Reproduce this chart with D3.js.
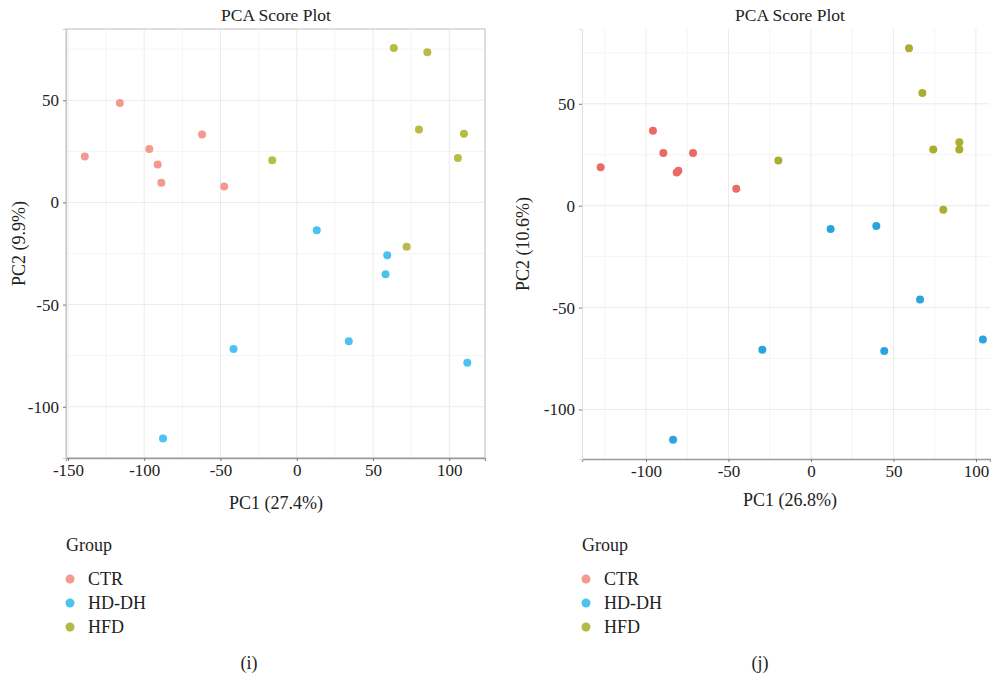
<!DOCTYPE html>
<html>
<head>
<meta charset="utf-8">
<script src="https://cdn.jsdelivr.net/npm/d3@7"></script>
<style>
    body { margin: 0; background: #fff; }
    svg text { font-family: "Liberation Serif", "DejaVu Serif", serif; fill: #222; }
    .grid line { stroke: #ebebeb; }
    .grid .minor { stroke: #f4f4f4; }
</style>
</head>
<body>
<svg id="chart" width="991" height="678"></svg>
<script>
// groups, legend
const groups = ["CTR", "HD-DH", "HFD"];
const legendColors = ["#F39A90", "#4CC3EF", "#B4B845"];

// panel (i): [PC1, PC2]
const ctrI = [[-139, 22.5], [-116, 48.7], [-96.7, 26.2], [-91.2, 18.6], [-88.8, 9.6], [-62.1, 33.3], [-47.6, 7.8]];
const hddhI = [[13.1, -13.6], [59.3, -25.9], [58.2, -35.1], [34.1, -68], [-41.5, -71.8], [111.8, -78.5], [-87.7, -115.6]];
const hfdI = [[-16.1, 20.7], [63.6, 75.6], [85.6, 73.5], [80.1, 35.7], [109.6, 33.6], [105.6, 21.8], [72, -21.7]];

// panel (j)
const ctrJ = [[-127.5, 18.8], [-95.8, 36.8], [-89.5, 25.9], [-81.4, 16.3], [-80.4, 17.2], [-71.5, 25.9], [-45.3, 8.3]];
const hddhJ = [[11.9, -11.4], [39.6, -10], [66.1, -46], [-29.5, -70.7], [44.4, -71.3], [104.2, -65.7], [-83.6, -114.8]];
const hfdJ = [[-19.8, 22.2], [59.4, 77.2], [67.5, 55.3], [74.1, 27.6], [89.9, 31.1], [89.9, 27.6], [80.2, -2]];

const xTicksI = [-150, -100, -50, 0, 50, 100];
const xTicksJ = [-100, -50, 0, 50, 100];
const yTicks = [-100, -50, 0, 50];

let svg = d3.select("#chart");

function drawPanel(cfg) {
    let g = svg.append("g");
    let x = d3.scaleLinear().domain(cfg.xDomain).range([cfg.left, cfg.right]);
    let y = d3.scaleLinear().domain(cfg.yDomain).range([cfg.bottom, cfg.top]);

    // minor grid
    let xMinor = d3.range(-175, 150, 50).filter(v => v > cfg.xDomain[0] && v < cfg.xDomain[1]);
    let yMinor = d3.range(-125, 100, 50).filter(v => v > cfg.yDomain[0] && v < cfg.yDomain[1]);
    let grid = g.append("g").attr("class", "grid");
    grid.selectAll(".mx").data(xMinor).enter().append("line").attr("class", "minor")
        .attr("x1", d => x(d)).attr("x2", d => x(d)).attr("y1", cfg.top).attr("y2", cfg.bottom);
    grid.selectAll(".my").data(yMinor).enter().append("line").attr("class", "minor")
        .attr("y1", d => y(d)).attr("y2", d => y(d)).attr("x1", cfg.left).attr("x2", cfg.right);
    grid.selectAll(".gx").data(cfg.xTicks).enter().append("line")
        .attr("x1", d => x(d)).attr("x2", d => x(d)).attr("y1", cfg.top).attr("y2", cfg.bottom);
    grid.selectAll(".gy").data(yTicks).enter().append("line")
        .attr("y1", d => y(d)).attr("y2", d => y(d)).attr("x1", cfg.left).attr("x2", cfg.right);

    if (cfg.box) {
        g.append("rect").attr("x", cfg.left).attr("y", cfg.top)
            .attr("width", cfg.right - cfg.left).attr("height", cfg.bottom - cfg.top)
            .attr("fill", "none").attr("stroke", "#c8c8c8").attr("stroke-width", 1.2);
    }

    let fmt = d => String(d); // plain hyphen minus like the original

    let xAxis = g.append("g").attr("transform", "translate(0," + cfg.bottom + ")")
        .call(d3.axisBottom(x).tickValues(cfg.xTicks).tickSize(3).tickPadding(3).tickFormat(fmt));
    xAxis.select(".domain").attr("stroke", "#9a9a9a").attr("stroke-width", 1.3);
    xAxis.selectAll(".tick line").attr("stroke", "#777");
    xAxis.selectAll("text").style("font-size", "17px").attr("fill", "#222");

    let yAxis = g.append("g").attr("transform", "translate(" + cfg.left + ",0)")
        .call(d3.axisLeft(y).tickValues(yTicks).tickSize(3).tickPadding(4).tickFormat(fmt));
    yAxis.select(".domain").attr("stroke", cfg.box ? "#c8c8c8" : "#dedede");
    yAxis.selectAll(".tick line").attr("stroke", "#777");
    yAxis.selectAll("text").style("font-size", "17px").attr("fill", "#222");

    let series = [cfg.ctr, cfg.hddh, cfg.hfd];
    series.forEach(function (pts, i) {
        g.selectAll(".p" + i).data(pts).enter().append("circle")
            .attr("cx", d => x(d[0])).attr("cy", d => y(d[1])).attr("r", 4)
            .attr("fill", cfg.colors[i]);
    });

    g.append("text").attr("x", cfg.titleX).attr("y", 21).attr("text-anchor", "middle")
        .style("font-size", "17.5px").text("PCA Score Plot");
    g.append("text").attr("x", cfg.titleX).attr("y", cfg.xLabelY).attr("text-anchor", "middle")
        .style("font-size", "18px").text(cfg.xLabel);
    g.append("text").attr("transform", "translate(" + cfg.yLabelX + "," + ((cfg.top + cfg.bottom) / 2) + ") rotate(-90)")
        .attr("text-anchor", "middle").style("font-size", "18px").text(cfg.yLabel);

    // legend
    let lg = g.append("g").attr("transform", "translate(" + cfg.legendX + ",0)");
    lg.append("text").attr("x", 0).attr("y", 551).style("font-size", "18px").text("Group");
    groups.forEach(function (name, i) {
        lg.append("circle").attr("cx", 4).attr("cy", 579 + i * 24).attr("r", 4.5).attr("fill", legendColors[i]);
        lg.append("text").attr("x", 22).attr("y", 585 + i * 24).style("font-size", "18px").text(name);
    });

    g.append("text").attr("x", cfg.tagX).attr("y", 669).attr("text-anchor", "middle")
        .style("font-size", "18px").text(cfg.tag);
}

drawPanel({
    left: 66, right: 485, top: 29, bottom: 458,
    xDomain: [-151.3, 123.4], yDomain: [-125.1, 84.9], xTicks: xTicksI,
    ctr: ctrI, hddh: hddhI, hfd: hfdI,
    colors: ["#F39A90", "#4CC3EF", "#B8BC44"],
    box: true, titleX: 276, xLabel: "PC1 (27.4%)", xLabelY: 509, yLabel: "PC2 (9.9%)", yLabelX: 25,
    legendX: 66, tagX: 249, tag: "(i)"
});

drawPanel({
    left: 582, right: 990, top: 29, bottom: 459,
    xDomain: [-138.8, 108.5], yDomain: [-124.3, 86.7], xTicks: xTicksJ,
    ctr: ctrJ, hddh: hddhJ, hfd: hfdJ,
    colors: ["#E96B64", "#2AA4DF", "#AAAD2F"],
    box: false, titleX: 790, xLabel: "PC1 (26.8%)", xLabelY: 506, yLabel: "PC2 (10.6%)", yLabelX: 529,
    legendX: 582, tagX: 760, tag: "(j)"
});
</script>
</body>
</html>
